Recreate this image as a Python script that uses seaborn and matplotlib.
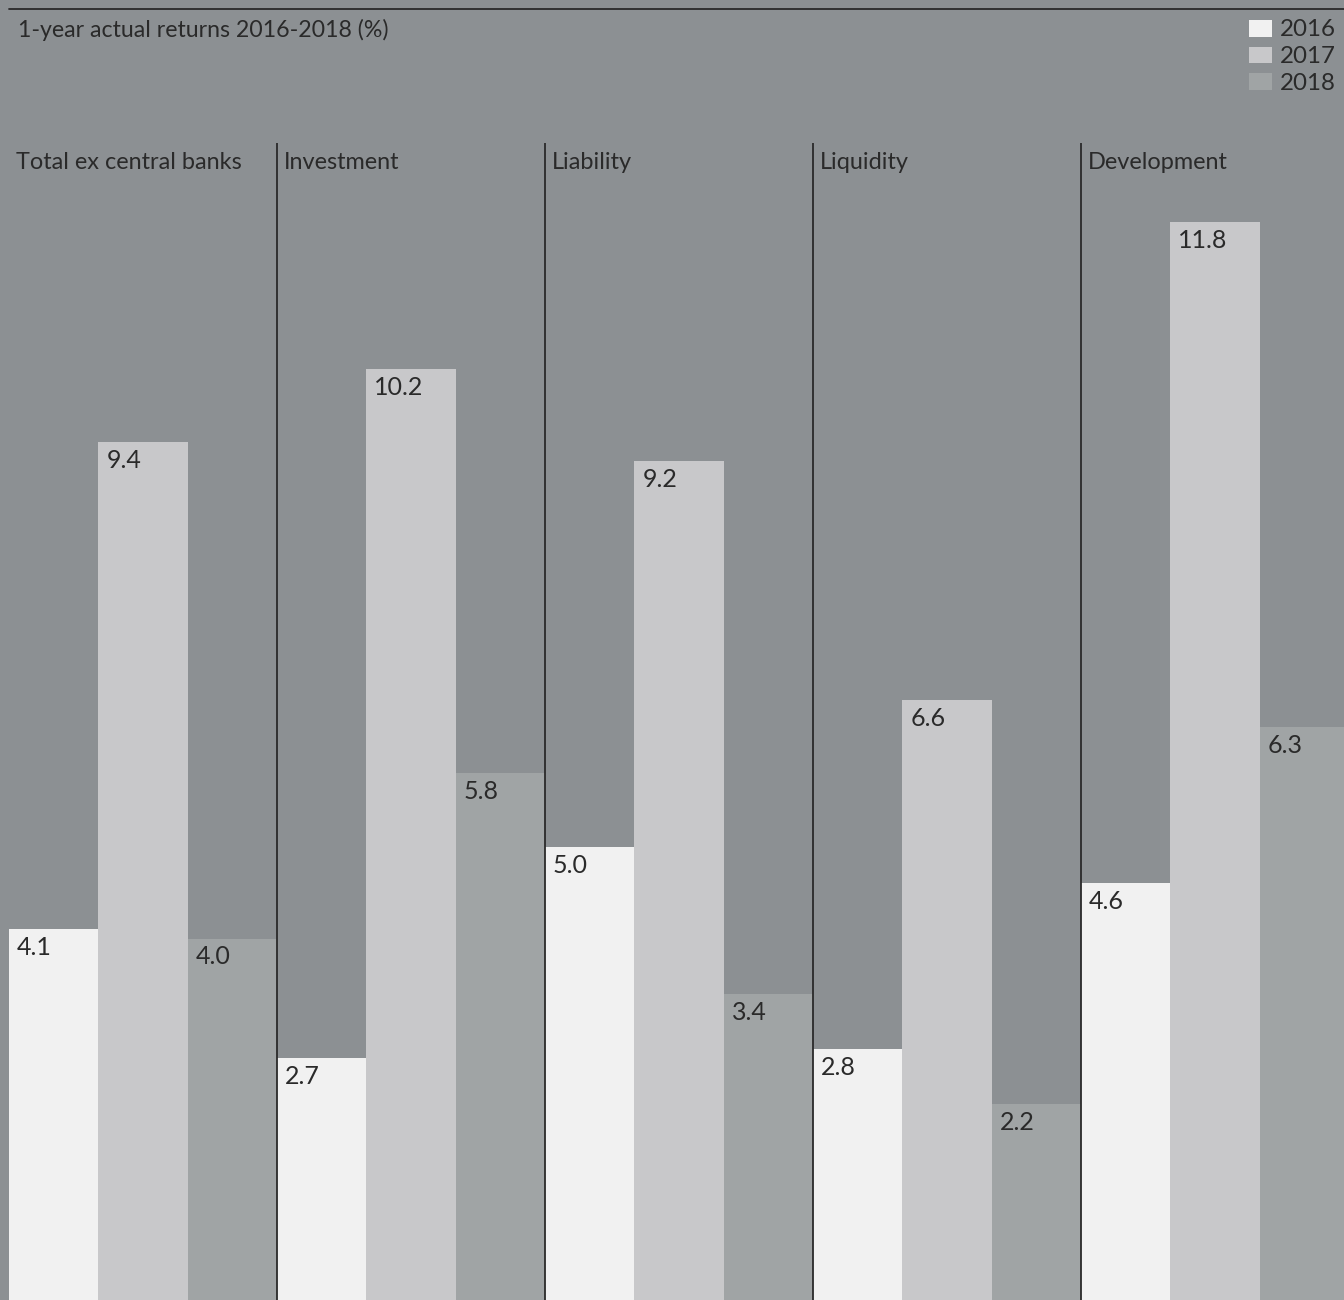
import matplotlib
matplotlib.use("Agg")
import matplotlib.pyplot as plt
from matplotlib.patches import Rectangle
import pandas as pd
import seaborn as sns

# Chart data
categories = ["Total ex central banks", "Investment", "Liability", "Liquidity", "Development"]
years = ["2016", "2017", "2018"]
returns_2016 = [4.1, 2.7, 5.0, 2.8, 4.6]
returns_2017 = [9.4, 10.2, 9.2, 6.6, 11.8]
returns_2018 = [4.0, 5.8, 3.4, 2.2, 6.3]
title = "1-year actual returns 2016-2018 (%)"

bg = "#8c9093"
bar_colors = ["#f1f1f1", "#c8c8ca", "#a0a4a5"]
ink = "#2a2a2a"
font = ["Lato", "DejaVu Sans"]

sns.set_theme(style="white")
plt.rcParams["font.family"] = font

df = pd.DataFrame({
    "category": categories * 3,
    "year": [y for y in years for _ in categories],
    "value": returns_2016 + returns_2017 + returns_2018,
})

W, H = 1344, 1300
fig = plt.figure(figsize=(W / 100, H / 100), dpi=100, facecolor=bg)
left_px = 9
ax = fig.add_axes([left_px / W, 0, (W - left_px) / W, 1])
ax.set_facecolor(bg)

sns.barplot(data=df, x="category", y="value", hue="year", order=categories,
            hue_order=years, palette=bar_colors, width=1.0, saturation=1,
            dodge=True, legend=False, ax=ax, linewidth=0, edgecolor="none",
            err_kws={"linewidth": 0})

# vertical scale: baseline sits slightly below the figure edge
px_per_unit = 91.875
base_px = 1306
ymin = (base_px - H) / px_per_unit
ymax = ymin + H / px_per_unit
ax.set_ylim(ymin, ymax)
panel_px = 268
ax.set_xlim(-0.5, (W - left_px) / panel_px - 0.5)
for s in ax.spines.values():
    s.set_visible(False)
ax.set_xticks([])
ax.set_yticks([])
ax.set_xlabel("")
ax.set_ylabel("")

# value labels inside the top-left corner of each bar
for container in ax.containers:
    for bar in container:
        h = bar.get_height()
        ax.annotate(f"{h:.1f}", xy=(bar.get_x(), h), xytext=(8, -7),
                    textcoords="offset pixels", ha="left", va="top",
                    fontsize=18, color=ink)

# panel dividers and panel titles
div_top = (base_px - 143) / px_per_unit
for i, cat in enumerate(categories):
    if i > 0:
        ax.vlines(i - 0.5, ymin, div_top, color=ink, linewidth=1.3)
    ax.annotate(cat, xy=(i - 0.5, div_top), xytext=(7, -9),
                textcoords="offset pixels", ha="left", va="top",
                fontsize=16.9, color=ink)

# top rule and title
fig.add_artist(plt.Line2D([left_px / W, 1], [1 - 9 / H, 1 - 9 / H],
                          color=ink, linewidth=1.3))
fig.text(18 / W, 1 - 30 / H, title, ha="left", va="center",
         fontsize=16.7, color=ink)

# legend
for k, (yr, c) in enumerate(zip(years, bar_colors)):
    cy = 28.5 + k * 26.5
    fig.add_artist(Rectangle((1249 / W, 1 - (cy + 8) / H), 23 / W, 16 / H,
                             transform=fig.transFigure, facecolor=c,
                             edgecolor="none"))
    fig.text(1336 / W, 1 - (cy + 1.5) / H, yr, ha="right", va="center",
             fontsize=17.4, color=ink)

fig.savefig("out.png", dpi=100, facecolor=bg)
